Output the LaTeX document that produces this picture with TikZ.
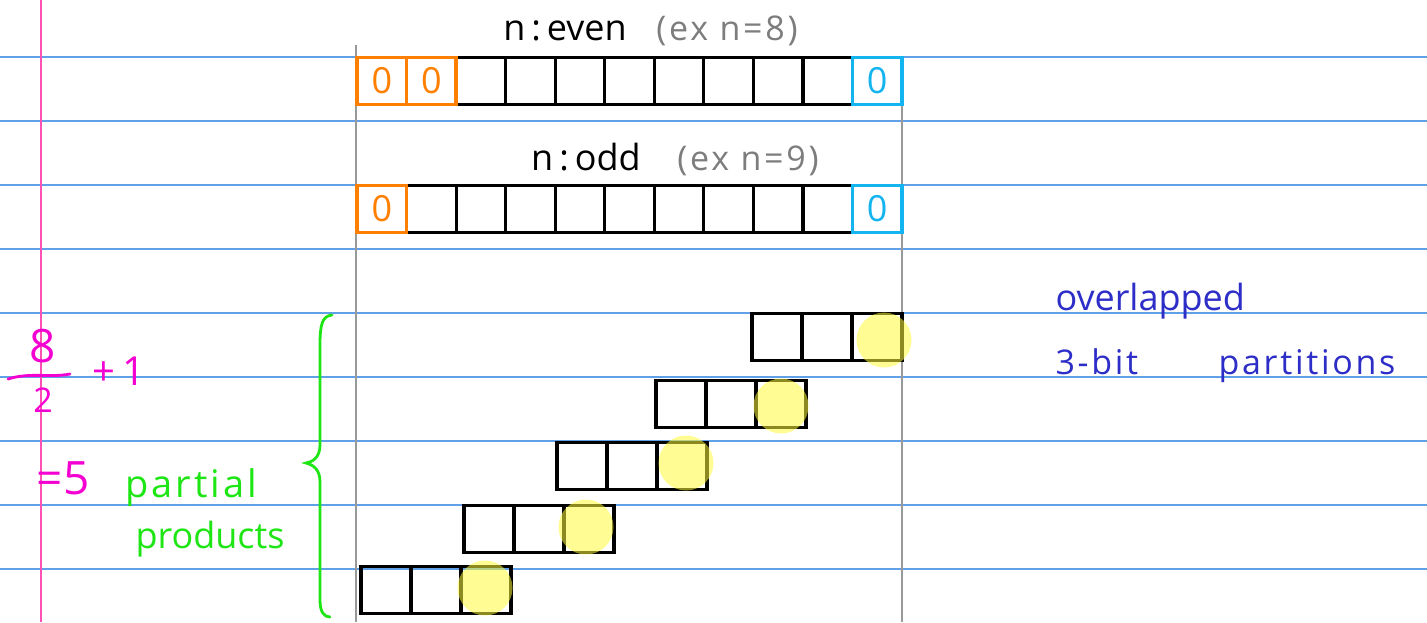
\documentclass[tikz,border=0pt]{standalone}
\usepackage{fontspec}
\setmainfont{Open Sans}
\newfontfamily\spaced[LetterSpace=8]{Open Sans}
\definecolor{rule}{RGB}{95,160,230}
\definecolor{margin}{RGB}{255,80,180}
\definecolor{orng}{RGB}{255,128,0}
\definecolor{cyn}{RGB}{20,180,240}
\definecolor{hlyel}{RGB}{255,250,60}
\definecolor{pnk}{RGB}{245,0,210}
\definecolor{grn}{RGB}{30,230,20}
\definecolor{blu}{RGB}{45,45,200}
\definecolor{gry}{RGB}{125,125,125}
\tikzset{
  cell/.style={draw=black, line width=3.2pt, minimum width=49.5pt, minimum height=47pt, inner sep=0pt},
  ocell/.style={cell, draw=orng, text=orng, font=\fontsize{36}{38}\selectfont},
  ccell/.style={cell, draw=cyn, text=cyn, font=\fontsize{36}{38}\selectfont},
  pcell/.style={cell, minimum width=50pt},
  hl/.style={circle, minimum size=55pt, inner sep=0pt, fill=hlyel, fill opacity=0.55, draw=none},
  ruled/.style={draw=rule, line width=1.1pt},
  guide/.style={draw=gray!80, line width=1.8pt},
  big/.style={font=\fontsize{36}{40}\selectfont},
  mid/.style={font=\spaced\fontsize{34}{38}\selectfont},
}
\begin{document}
\begin{tikzpicture}[x=1pt,y=-1pt]
\useasboundingbox (0,0) rectangle (1427,622);
\fill[white] (0,0) rectangle (1427,622);
% ruled lines
\foreach \k in {0,...,8} { \draw[ruled] (0,{57+64*\k}) -- (1427,{57+64*\k}); }
% margin line
\draw[draw=margin, line width=1.5pt] (41,0) -- (41,622);
% guides
\draw[guide] (356,45) -- (356,622);
\draw[guide] (902,57) -- (902,622);
% top row (n even)
\foreach \i in {2,...,9} { \node[cell] (e\i) at ({381.8+49.545*\i},81) {}; }
\node[ocell] (e0) at (381.8,81) {0};
\node[ocell] (e1) at (431.3,81) {0};
\node[ccell] (e10) at ({381.8+49.545*10},81) {0};
% second row (n odd)
\foreach \i in {1,...,9} { \node[cell] (o\i) at ({381.8+49.545*\i},209) {}; }
\node[ocell] (o0) at (381.8,209) {0};
\node[ccell] (o10) at ({381.8+49.545*10},209) {0};
% partial products
\foreach \n/\x/\y in {A/752/337, B/656/404, C/557/466, D/464/529, E/361/590} {
  \node[pcell] (\n1) at (\x+25,\y) {};
  \node[pcell] (\n2) at (\x+75,\y) {};
  \node[pcell] (\n3) at (\x+125,\y) {};
}
\node[hl] (hA) at (884,340) {};
\node[hl] (hB) at (781,406) {};
\node[hl] (hC) at (686,463) {};
\node[hl] (hD) at (586,527) {};
\node[hl] (hE) at (485,588) {};
% headings
\node[big, anchor=base] (even) at (565,40) {n\,:\,even};
\node[mid, text=gry, anchor=base] (exe) at (727,40) {(ex n=8)};
\node[big, anchor=base] (odd) at (586,170) {n\,:\,odd};
\node[mid, text=gry, anchor=base] (exo) at (748,170) {(ex n=9)};
% left formula
\node[font=\fontsize{46}{50}\selectfont, text=pnk] (eight) at (43,346) {8};
\draw[draw=pnk, line width=2.8pt, line cap=round] (8,379) .. controls (30,372) and (50,378) .. (70,374);
\node[font=\fontsize{34}{38}\selectfont, text=pnk] (two) at (43,400) {2};
\node[font=\fontsize{40}{44}\selectfont, text=pnk] (plus) at (119,371) {+\,1};
\node[font=\fontsize{46}{50}\selectfont, text=pnk] (eq) at (63,478) {=5};
\node[font=\spaced\fontsize{38}{42}\selectfont, text=grn, anchor=base west] (partial) at (122,497) {partial};
\node[big, text=grn, anchor=base west] (products) at (132,548) {products};
% brace
\draw[draw=grn, line width=2.8pt, line cap=round]
  (332,315) .. controls (322,316) and (320,325) .. (320,345) -- (320,445)
  .. controls (320,458) and (312,462) .. (306,463)
  .. controls (314,465) and (320,470) .. (320,482) -- (320,600)
  .. controls (320,612) and (324,617) .. (330,617);
% right notes
\node[big, text=blu, anchor=base west] (ovl) at (1052,310) {overlapped};
\node[mid, text=blu, anchor=base west] (tbit) at (1052,374) {3-bit};
\node[mid, text=blu, anchor=base west] (part) at (1215,374) {partitions};
\end{tikzpicture}
\end{document}
